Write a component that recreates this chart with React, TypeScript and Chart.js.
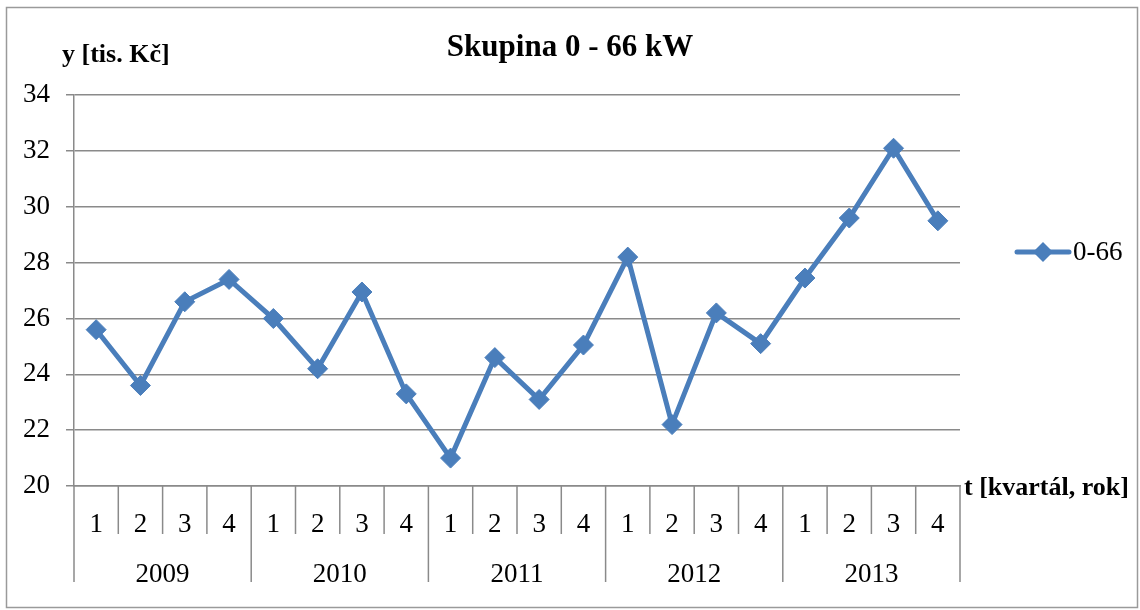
import React, { useEffect, useRef } from "react";
import { Chart, registerables } from "chart.js";

Chart.register(...registerables);

const quarterLabels = ["1", "2", "3", "4"];
const years = ["2009", "2010", "2011", "2012", "2013"];
const seriesLabel = "0-66";
const values = [
  25.6, 23.6, 26.6, 27.4,
  26.0, 24.2, 26.95, 23.3,
  21.0, 24.6, 23.1, 25.05,
  28.2, 22.2, 26.2, 25.1,
  27.45, 29.6, 32.1, 29.5,
];
const titleText = "Skupina 0 - 66 kW";
const yAxisText = "y [tis. Kč]";
const xAxisText = "t [kvartál, rok]";

const FONT = "'Liberation Serif', 'Times New Roman', serif";
const GRID = "#8a8a8a";
const BLUE = "#4a7ebb";

const decorPlugin = {
  id: "decor",
  afterDraw(chart: any) {
    const ctx = chart.ctx as CanvasRenderingContext2D;
    const xs = chart.scales.x;
    const x2 = chart.scales.x2;
    const area = chart.chartArea;
    const n = values.length;
    const per = quarterLabels.length;
    ctx.save();
    ctx.strokeStyle = GRID;
    ctx.lineWidth = 1.5;
    for (let k = 0; k <= n; k++) {
      let px: number;
      if (k === 0) px = area.left;
      else if (k === n) px = area.right;
      else px = (xs.getPixelForValue(k - 1) + xs.getPixelForValue(k)) / 2;
      const bottom = k % per === 0 ? x2.bottom : xs.bottom;
      ctx.beginPath();
      ctx.moveTo(px, area.bottom);
      ctx.lineTo(px, bottom);
      ctx.stroke();
    }

    // axis captions
    ctx.fillStyle = "#000";
    ctx.font = `bold 26px ${FONT}`;
    ctx.textBaseline = "middle";
    ctx.textAlign = "left";
    ctx.fillText(yAxisText, 62, 55);
    ctx.fillText(xAxisText, 964, area.bottom + 2);

    // legend
    const ly = 252;
    ctx.strokeStyle = BLUE;
    ctx.lineWidth = 5;
    ctx.lineCap = "round";
    ctx.beginPath();
    ctx.moveTo(1017, ly);
    ctx.lineTo(1069, ly);
    ctx.stroke();
    ctx.fillStyle = BLUE;
    const r = 10;
    const cx = 1043;
    ctx.beginPath();
    ctx.moveTo(cx - r, ly);
    ctx.lineTo(cx, ly - r);
    ctx.lineTo(cx + r, ly);
    ctx.lineTo(cx, ly + r);
    ctx.closePath();
    ctx.fill();
    ctx.fillStyle = "#000";
    ctx.font = `27px ${FONT}`;
    ctx.fillText(chart.data.datasets[0].label, 1073, ly + 1);

    // outer border
    ctx.strokeStyle = "#9a9a9a";
    ctx.lineWidth = 1.5;
    ctx.lineCap = "butt";
    ctx.strokeRect(6.5, 7.5, 1131, 600);
    ctx.restore();
  },
};

export default function App() {
  const ref = useRef<HTMLCanvasElement>(null);
  useEffect(() => {
    if (!ref.current) return;
    Chart.defaults.font.family = FONT;
    const labels = years.flatMap(() => quarterLabels);
    const chart = new Chart(ref.current, {
      type: "line",
      data: {
        labels,
        datasets: [
          {
            label: seriesLabel,
            data: values,
            borderColor: BLUE,
            backgroundColor: BLUE,
            borderWidth: 5,
            pointStyle: "rectRot",
            pointRadius: 10,
            pointBorderWidth: 1,
            pointBackgroundColor: BLUE,
            pointBorderColor: BLUE,
            tension: 0,
            xAxisID: "x",
            yAxisID: "y",
          },
        ],
      },
      options: {
        responsive: false,
        animation: false,
        layout: { padding: { left: 0, right: 0, top: 0, bottom: 28 } },
        plugins: {
          legend: { display: false },
          tooltip: { enabled: false },
          title: {
            display: true,
            text: titleText,
            color: "#000",
            font: { size: 31, weight: "bold", family: FONT },
            padding: { top: 29, bottom: 29 },
          },
        },
        scales: {
          x: {
            type: "category",
            position: "bottom",
            weight: 0,
            offset: true,
            grid: { display: false },
            border: { display: true, color: GRID, width: 1.5 },
            ticks: { color: "#000", font: { size: 27 }, padding: 15, maxRotation: 0, autoSkip: false },
            afterFit: (s: any) => { s.height = 48; },
          },
          x2: {
            type: "category",
            position: "bottom",
            weight: 1,
            labels: years,
            offset: true,
            grid: { display: false },
            border: { display: false },
            ticks: { color: "#000", font: { size: 27 }, padding: 17, maxRotation: 0, autoSkip: false },
            afterFit: (s: any) => { s.height = 48; },
          },
          y: {
            min: 20,
            max: 34,
            ticks: { stepSize: 2, color: "#000", font: { size: 27 }, padding: 16 },
            grid: { color: GRID, lineWidth: 1.5, tickLength: 8 },
            border: { display: true, color: GRID, width: 1.5 },
            afterFit: (s: any) => { s.width = 74; },
          },
          legendSpace: {
            type: "linear",
            position: "right",
            min: 0,
            max: 1,
            grid: { display: false },
            border: { display: false },
            ticks: { display: false },
            afterFit: (s: any) => { s.width = 180; },
          },
        },
      },
      plugins: [decorPlugin],
    } as any);
    return () => chart.destroy();
  }, []);
  return (
    <div style={{ position: "fixed", left: 0, top: 0, width: 1140, height: 610, background: "#fff" }}>
      <canvas ref={ref} width={1140} height={610} style={{ display: "block" }} />
    </div>
  );
}
